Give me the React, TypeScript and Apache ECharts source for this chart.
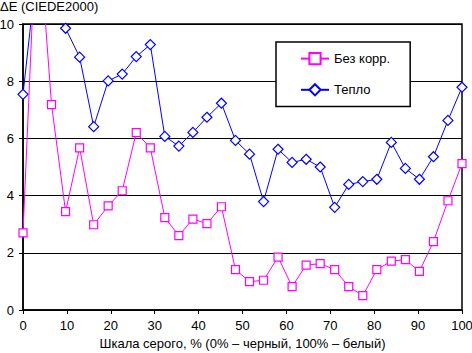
import React, { useEffect, useRef } from "react";
import * as echarts from "echarts";

const grayLevels = [0, 3.2, 6.5, 9.7, 12.9, 16.1, 19.4, 22.6, 25.8, 29.0, 32.3, 35.5, 38.7, 41.9, 45.2, 48.4, 51.6, 54.8, 58.1, 61.3, 64.5, 67.7, 71.0, 74.2, 77.4, 80.6, 83.9, 87.1, 90.3, 93.5, 96.8, 100];
const noCorrection = [2.7, 14.0, 7.18, 3.44, 5.67, 2.98, 3.64, 4.17, 6.2, 5.67, 3.23, 2.6, 3.18, 3.02, 3.61, 1.41, 0.99, 1.04, 1.85, 0.82, 1.57, 1.62, 1.41, 0.82, 0.5, 1.41, 1.71, 1.76, 1.35, 2.39, 3.82, 5.12];
const warm = [7.54, 12.0, 10.4, 9.85, 8.84, 6.41, 8.01, 8.25, 8.86, 9.28, 6.07, 5.73, 6.21, 6.74, 7.23, 5.93, 5.45, 3.79, 5.62, 5.16, 5.27, 5.0, 3.59, 4.39, 4.49, 4.57, 5.86, 4.95, 4.57, 5.36, 6.63, 7.79];
const seriesNames = ["Без корр.", "Тепло"];
const yTitle = "ΔE (CIEDE2000)";
const xTitle = "Шкала серого, % (0% – черный, 100% – белый)";

const FONT = "'Liberation Sans', Arial, sans-serif";

export default function App() {
  const ref = useRef<HTMLDivElement>(null);
  useEffect(() => {
    document.body.style.margin = "0";
    if (!ref.current) return;
    const chart = echarts.init(ref.current, null, { renderer: "svg" });
    const pair = (ys: number[]) => grayLevels.map((x, i) => [x, ys[i]]);
    chart.setOption({
      animation: false,
      backgroundColor: "#fff",
      textStyle: { fontFamily: FONT, color: "#000" },
      grid: {
        left: 23,
        right: 10,
        top: 24,
        bottom: 43,
        containLabel: false,
        outerBoundsMode: "none",
        show: true,
        borderColor: "#000",
        borderWidth: 1.5,
        backgroundColor: "transparent",
      },
      graphic: [
        {
          type: "text",
          left: 0,
          top: 0,
          style: { text: yTitle, font: `13px ${FONT}`, fill: "#000" },
        },
      ],
      legend: {
        left: 276,
        top: 42,
        orient: "vertical",
        itemWidth: 28,
        itemHeight: 14,
        itemGap: 18,
        padding: [10, 20, 10, 24],
        backgroundColor: "#fff",
        borderColor: "#000",
        borderWidth: 1.5,
        borderRadius: 0,
        textStyle: { fontSize: 13, fontFamily: FONT, color: "#000" },
        data: seriesNames,
      },
      xAxis: {
        type: "value",
        min: 0,
        max: 100,
        interval: 10,
        name: xTitle,
        nameLocation: "middle",
        nameGap: 26,
        nameTextStyle: { fontSize: 13, fontFamily: FONT, color: "#000", verticalAlign: "top" },
        axisLine: { lineStyle: { color: "#000", width: 1.5 } },
        axisTick: { show: true, length: 4, lineStyle: { color: "#000", width: 1 } },
        axisLabel: { fontSize: 13, fontFamily: FONT, color: "#000", margin: 9 },
        splitLine: { show: false },
      },
      yAxis: {
        type: "value",
        min: 0,
        max: 10,
        interval: 2,
        axisLine: { show: true, lineStyle: { color: "#000", width: 1.5 } },
        axisTick: { show: true, length: 4, lineStyle: { color: "#000", width: 1 } },
        axisLabel: { fontSize: 13, fontFamily: FONT, color: "#000", margin: 9 },
        splitLine: { show: true, lineStyle: { color: "#000", width: 1 } },
      },
      series: [
        {
          name: seriesNames[0],
          type: "line",
          data: pair(noCorrection),
          symbol: "rect",
          symbolSize: 8,
          showAllSymbol: true,
          lineStyle: { color: "#FF00FF", width: 1 },
          itemStyle: { color: "#fff", borderColor: "#FF00FF", borderWidth: 1.2 },
          clip: true,
          z: 3,
        },
        {
          name: seriesNames[1],
          type: "line",
          data: pair(warm),
          symbol: "diamond",
          symbolSize: 10,
          showAllSymbol: true,
          lineStyle: { color: "#0000FF", width: 1 },
          itemStyle: { color: "#fff", borderColor: "#0000FF", borderWidth: 1.2 },
          clip: true,
          z: 2,
        },
      ],
    });
    return () => chart.dispose();
  }, []);
  return <div ref={ref} style={{ width: 472, height: 353 }} />;
}
